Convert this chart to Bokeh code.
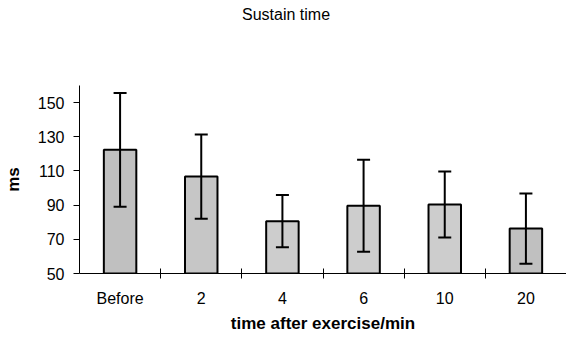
from bokeh.plotting import figure
from bokeh.models import ColumnDataSource, Whisker, TeeHead, FixedTicker, Range1d, Div
from bokeh.layouts import column
from bokeh.embed import file_html
from bokeh.resources import INLINE

categories = ["Before", "2", "4", "6", "10", "20"]
means = [122.4, 106.7, 80.5, 89.6, 90.3, 76.4]
upper = [155.6, 131.4, 96.0, 116.5, 109.7, 96.8]
lower = [89.0, 82.1, 65.3, 62.7, 71.0, 55.7]
fill_colors = ["#c0c0c0", "#c6c6c6", "#cdcdcd", "#cdcdcd", "#cdcdcd", "#c0c0c0"]
y_ticks = [50, 70, 90, 110, 130, 150]
title_text = "Sustain time"

xs = [i + 0.5 for i in range(len(categories))]
src = ColumnDataSource(dict(x=xs, top=means, upper=upper, lower=lower, color=fill_colors))

FONT = "Liberation Sans"

p = figure(frame_width=487, frame_height=188, output_backend="svg", toolbar_location=None,
           x_range=Range1d(0, len(categories)), y_range=Range1d(50, 160),
           min_border_left=73, min_border_right=0, min_border_top=63, min_border_bottom=55,
           margin=0)
p.outline_line_color = None
p.xgrid.visible = False
p.ygrid.visible = False
p.background_fill_color = "white"
p.border_fill_color = "white"

p.vbar(x="x", top="top", bottom=50, width=0.4, source=src, fill_color="color",
       line_color="black", line_width=2)

w = Whisker(base="x", upper="upper", lower="lower", source=src, dimension="height",
            line_color="black", line_width=2, level="overlay",
            upper_head=TeeHead(size=13, line_color="black", line_width=2),
            lower_head=TeeHead(size=13, line_color="black", line_width=2))
p.add_layout(w)

# y axis
p.yaxis.ticker = FixedTicker(ticks=y_ticks)
p.yaxis.axis_line_color = "black"
p.yaxis.axis_line_width = 1
p.yaxis.major_tick_in = 0
p.yaxis.major_tick_out = 6
p.yaxis.minor_tick_line_color = None
p.yaxis.major_label_text_font = FONT
p.yaxis.major_label_text_font_size = "16px"
p.yaxis.major_label_text_color = "black"
p.yaxis.major_label_standoff = 9
p.yaxis.axis_label = "ms"
p.yaxis.axis_label_text_font = FONT
p.yaxis.axis_label_text_font_size = "17px"
p.yaxis.axis_label_text_font_style = "bold"
p.yaxis.axis_label_text_color = "black"
p.yaxis.axis_label_standoff = 12

# x axis
p.xaxis.ticker = FixedTicker(ticks=xs, minor_ticks=list(range(1, len(categories))))
p.xaxis.major_label_overrides = {x: c for x, c in zip(xs, categories)}
p.xaxis.axis_line_color = "black"
p.xaxis.major_tick_line_color = None
p.xaxis.major_tick_out = 5
p.xaxis.minor_tick_in = 5
p.xaxis.minor_tick_out = 5
p.xaxis.minor_tick_line_color = "black"
p.xaxis.major_label_text_font = FONT
p.xaxis.major_label_text_font_size = "16px"
p.xaxis.major_label_text_color = "black"
p.xaxis.major_label_standoff = 11
p.xaxis.axis_label = "time after exercise/min"
p.xaxis.axis_label_text_font = FONT
p.xaxis.axis_label_text_font_size = "17px"
p.xaxis.axis_label_text_font_style = "bold"
p.xaxis.axis_label_text_color = "black"
p.xaxis.axis_label_standoff = 4

title = Div(text=('<div style="font-family: \'Liberation Sans\'; font-size: 16px; '
                  'color: black; line-height: 18px; padding-left: 242px; padding-top: 6px; margin: 0;">'
                  + title_text + '</div>'),
            width=560, height=22, margin=0)

layout = column(title, p, spacing=0, margin=0)

open("out.html", "w").write(file_html(layout, INLINE))
